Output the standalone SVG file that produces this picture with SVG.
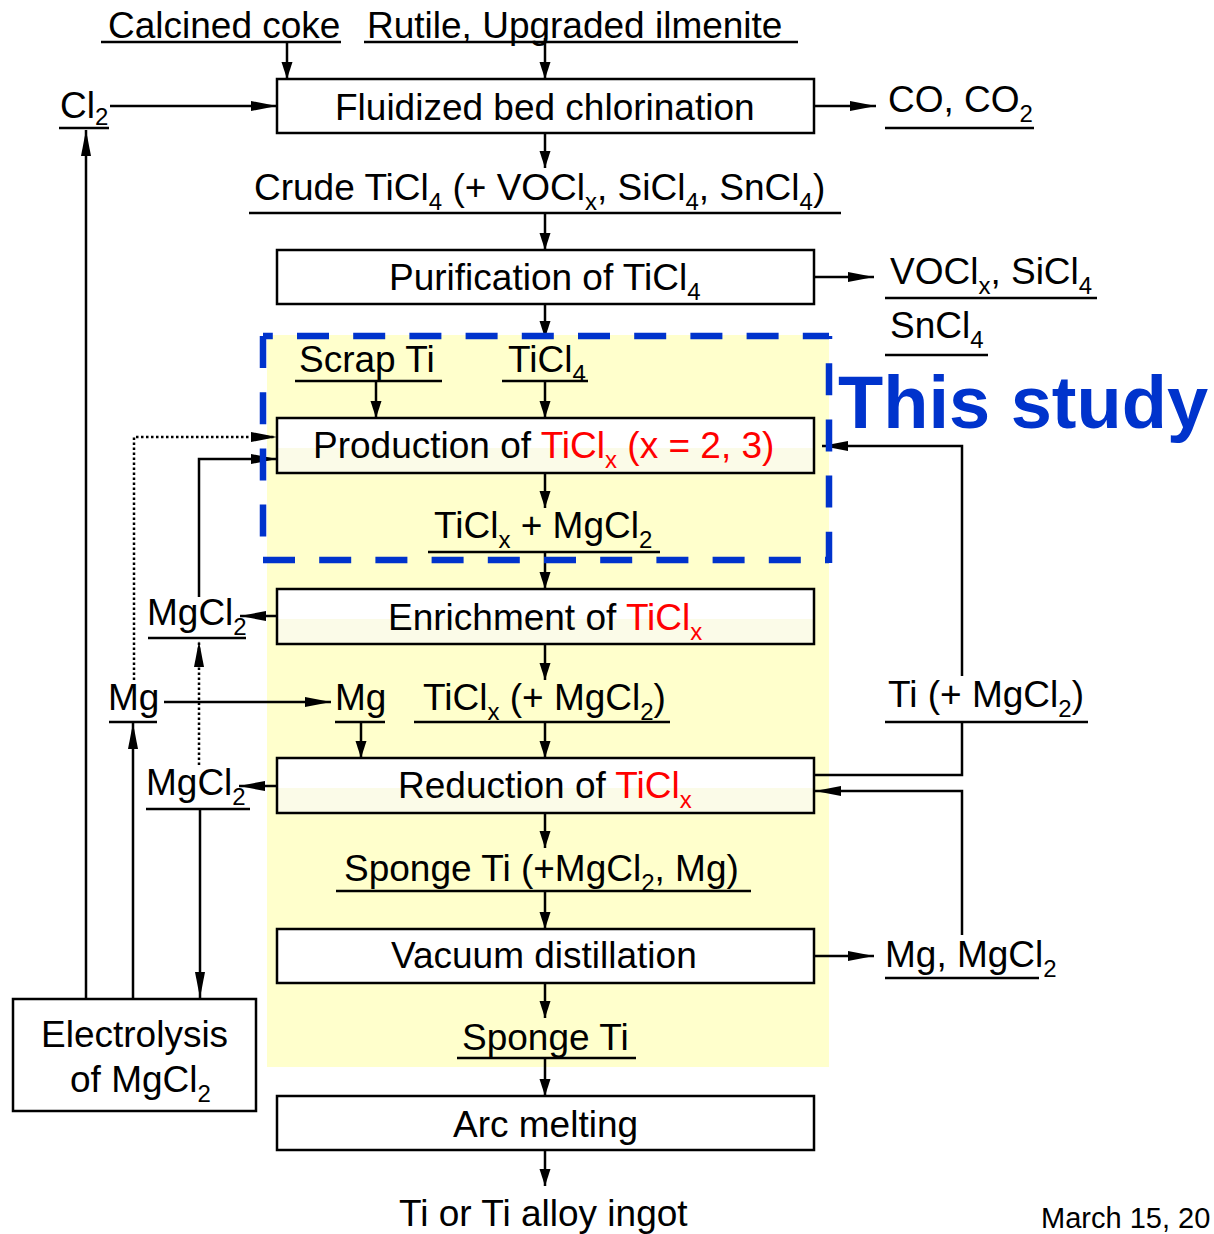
<svg xmlns="http://www.w3.org/2000/svg" width="1214" height="1234" viewBox="0 0 1214 1234">
<defs>
<style>
text{font-family:"Liberation Sans",Arial,sans-serif;font-size:37px;fill:#000}
.sub{font-size:24px}
.red{fill:#FF0000}
.box{fill:#fff;stroke:#000;stroke-width:2.5}
.boxy{fill:url(#g);stroke:#000;stroke-width:2.5}
.ul{stroke:#000;stroke-width:2.5}
.c{fill:none;stroke:#000;stroke-width:2.5}
.dot{stroke-dasharray:2.5 2.5}
.blue{fill:none;stroke:#0033CC;stroke-width:6.5;stroke-dasharray:32 24.2}
.study{font-weight:bold;font-size:74px;fill:#0033CC}
</style>
<linearGradient id="g" x1="0" y1="0" x2="0" y2="1">
<stop offset="0" stop-color="#fff"/><stop offset="0.55" stop-color="#fff"/><stop offset="0.55" stop-color="#FBFBE8"/><stop offset="1" stop-color="#FBFBE8"/>
</linearGradient>
<marker id="as" markerUnits="userSpaceOnUse" markerWidth="18" markerHeight="12" refX="17" refY="5.5" orient="auto"><path d="M0,0 L17,5.5 L0,11 Z" fill="#000"/></marker>
<marker id="al" markerUnits="userSpaceOnUse" markerWidth="27" markerHeight="11" refX="26" refY="5" orient="auto"><path d="M0,0 L26,5 L0,10 Z" fill="#000"/></marker>
</defs>
<rect x="0" y="0" width="1214" height="1234" fill="#fff"/>
<rect id="study-area" x="267" y="335" width="562" height="732" fill="#FFFFCC"/>

<g id="n-fluid"><rect class="box" x="277" y="79" width="537" height="54"/><text x="335" y="120">Fluidized bed chlorination</text></g>
<g id="n-purif"><rect class="box" x="277" y="250" width="537" height="54"/><text x="389" y="290">Purification of TiCl<tspan class="sub" dy="10">4</tspan></text></g>
<g id="n-prod"><rect class="boxy" x="277" y="418" width="537" height="55"/><text x="313" y="458">Production of <tspan class="red">TiCl</tspan><tspan class="sub red" dy="10">x</tspan><tspan class="red" dy="-10"> (x = 2, 3)</tspan></text></g>
<g id="n-enrich"><rect class="boxy" x="277" y="589" width="537" height="55"/><text x="388" y="630">Enrichment of <tspan class="red">TiCl</tspan><tspan class="sub red" dy="10">x</tspan></text></g>
<g id="n-red"><rect class="boxy" x="277" y="758" width="537" height="55"/><text x="398" y="798">Reduction of <tspan class="red">TiCl</tspan><tspan class="sub red" dy="10">x</tspan></text></g>
<g id="n-vac"><rect class="box" x="277" y="929" width="537" height="54"/><text x="391" y="968">Vacuum distillation</text></g>
<g id="n-arc"><rect class="box" x="277" y="1096" width="537" height="54"/><text x="453" y="1137">Arc melting</text></g>
<g id="n-elec"><rect class="box" x="13" y="999" width="243" height="112"/><text x="41" y="1047">Electrolysis</text><text x="70" y="1092">of MgCl<tspan class="sub" dy="10">2</tspan></text></g>

<g id="n-coke"><text x="108" y="38">Calcined coke</text><line class="ul" x1="101" y1="42" x2="341" y2="42"/></g>
<g id="n-rutile"><text x="367" y="38">Rutile, Upgraded ilmenite</text><line class="ul" x1="364" y1="42" x2="798" y2="42"/></g>
<g id="n-cl2"><text x="60" y="118">Cl<tspan class="sub" dy="7">2</tspan></text><line class="ul" x1="59" y1="128" x2="109" y2="128"/></g>
<g id="n-co"><text x="888" y="112">CO, CO<tspan class="sub" dy="10">2</tspan></text><line class="ul" x1="885" y1="128" x2="1034" y2="128"/></g>
<g id="n-crude"><text x="254" y="200">Crude TiCl<tspan class="sub" dy="10">4</tspan><tspan dy="-10"> (+ VOCl</tspan><tspan class="sub" dy="10">x</tspan><tspan dy="-10">, SiCl</tspan><tspan class="sub" dy="10">4</tspan><tspan dy="-10">, SnCl</tspan><tspan class="sub" dy="10">4</tspan><tspan dy="-10">)</tspan></text><line class="ul" x1="249" y1="213" x2="841" y2="213"/></g>
<g id="n-vocl"><text x="890" y="284">VOCl<tspan class="sub" dy="10">x</tspan><tspan dy="-10">, SiCl</tspan><tspan class="sub" dy="10">4</tspan></text><line class="ul" x1="885" y1="298" x2="1097" y2="298"/></g>
<g id="n-sncl"><text x="890" y="338">SnCl<tspan class="sub" dy="10">4</tspan></text><line class="ul" x1="885" y1="355" x2="988" y2="355"/></g>
<g id="n-scrap"><text x="299" y="372">Scrap Ti</text><line class="ul" x1="295" y1="381" x2="442" y2="381"/></g>
<g id="n-ticl4"><text x="508" y="372">TiCl<tspan class="sub" dy="10">4</tspan></text><line class="ul" x1="502" y1="381" x2="588" y2="381"/></g>
<g id="n-mix"><text x="434" y="538">TiCl<tspan class="sub" dy="10">x</tspan><tspan dy="-10"> + MgCl</tspan><tspan class="sub" dy="10">2</tspan></text><line class="ul" x1="428" y1="552" x2="660" y2="552"/></g>
<g id="n-mgcl2a"><text x="147" y="625">MgCl<tspan class="sub" dy="10">2</tspan></text><line class="ul" x1="148" y1="638" x2="246" y2="638"/></g>
<g id="n-mga"><text x="108" y="710">Mg</text><line class="ul" x1="109" y1="722" x2="157" y2="722"/></g>
<g id="n-mgb"><text x="335" y="710">Mg</text><line class="ul" x1="335" y1="722" x2="385" y2="722"/></g>
<g id="n-ticlx"><text x="423" y="710">TiCl<tspan class="sub" dy="10">x</tspan><tspan dy="-10"> (+ MgCl</tspan><tspan class="sub" dy="10">2</tspan><tspan dy="-10">)</tspan></text><line class="ul" x1="414" y1="722" x2="670" y2="722"/></g>
<g id="n-ti"><text x="888" y="707">Ti (+ MgCl<tspan class="sub" dy="10">2</tspan><tspan dy="-10">)</tspan></text><line class="ul" x1="885" y1="722" x2="1088" y2="722"/></g>
<g id="n-mgcl2b"><text x="146" y="795">MgCl<tspan class="sub" dy="10">2</tspan></text><line class="ul" x1="146" y1="809" x2="250" y2="809"/></g>
<g id="n-sponge1"><text x="344" y="881">Sponge Ti (+MgCl<tspan class="sub" dy="10">2</tspan><tspan dy="-10">, Mg)</tspan></text><line class="ul" x1="336" y1="891" x2="751" y2="891"/></g>
<g id="n-mgmgcl"><text x="885" y="967">Mg, MgCl<tspan class="sub" dy="10">2</tspan></text><line class="ul" x1="885" y1="978" x2="1039" y2="978"/></g>
<g id="n-sponge2"><text x="462" y="1050">Sponge Ti</text><line class="ul" x1="457" y1="1058" x2="636" y2="1058"/></g>
<g id="n-ingot"><text x="399" y="1226">Ti or Ti alloy ingot</text></g>
<g id="n-date"><text x="1041" y="1228" style="font-size:29px">March 15, 20</text></g>

<g id="connectors">
<path class="c" d="M287,42 V79" marker-end="url(#as)"/>
<path class="c" d="M545,38 V79" marker-end="url(#as)"/>
<path class="c" d="M110,106 H277" marker-end="url(#al)"/>
<path class="c" d="M814,106 H876" marker-end="url(#al)"/>
<path class="c" d="M86,999 V130" marker-end="url(#al)"/>
<path class="c" d="M545,133 V168" marker-end="url(#as)"/>
<path class="c" d="M545,213 V250" marker-end="url(#as)"/>
<path class="c" d="M814,277 H874" marker-end="url(#al)"/>
<path class="c" d="M545,304 V338" marker-end="url(#as)"/>
<path class="c" d="M376,381 V418" marker-end="url(#as)"/>
<path class="c" d="M545,381 V418" marker-end="url(#as)"/>
<path class="c" d="M545,473 V508" marker-end="url(#as)"/>
<path class="c" d="M545,552 V589" marker-end="url(#as)"/>
<path class="c" d="M277,616 H240" marker-end="url(#al)"/>
<path class="c" d="M199,597 V459 H277" marker-end="url(#al)"/>
<path class="c dot" d="M134,680 V437 H277" marker-end="url(#al)"/>
<path class="c" d="M545,644 V680" marker-end="url(#as)"/>
<path class="c" d="M164,702 H331" marker-end="url(#al)"/>
<path class="c" d="M361,722 V758" marker-end="url(#as)"/>
<path class="c" d="M545,722 V758" marker-end="url(#as)"/>
<path class="c" d="M277,786 H239" marker-end="url(#al)"/>
<path class="c dot" d="M199,765 V641" marker-end="url(#al)"/>
<path class="c" d="M200,809 V998" marker-end="url(#al)"/>
<path class="c" d="M133,999 V723" marker-end="url(#al)"/>
<path class="c" d="M814,775 H962 V722"/>
<path class="c" d="M962,676 V446 H822" marker-end="url(#al)"/>
<path class="c" d="M962,935 V791 H815" marker-end="url(#al)"/>
<path class="c" d="M814,956 H874" marker-end="url(#al)"/>
<path class="c" d="M545,813 V848" marker-end="url(#as)"/>
<path class="c" d="M545,891 V929" marker-end="url(#as)"/>
<path class="c" d="M545,983 V1018" marker-end="url(#as)"/>
<path class="c" d="M545,1058 V1096" marker-end="url(#as)"/>
<path class="c" d="M545,1150 V1186" marker-end="url(#as)"/>
</g>

<g id="this-study">
<line class="blue" x1="263" y1="336" x2="829" y2="336" stroke-dashoffset="22.2"/>
<line class="blue" x1="263" y1="560" x2="829" y2="560"/>
<line class="blue" x1="263" y1="336" x2="263" y2="560"/>
<line class="blue" x1="829" y1="336" x2="829" y2="563" stroke-dashoffset="29"/>
<text class="study" x="838" y="428">This study</text>
</g>
</svg>
